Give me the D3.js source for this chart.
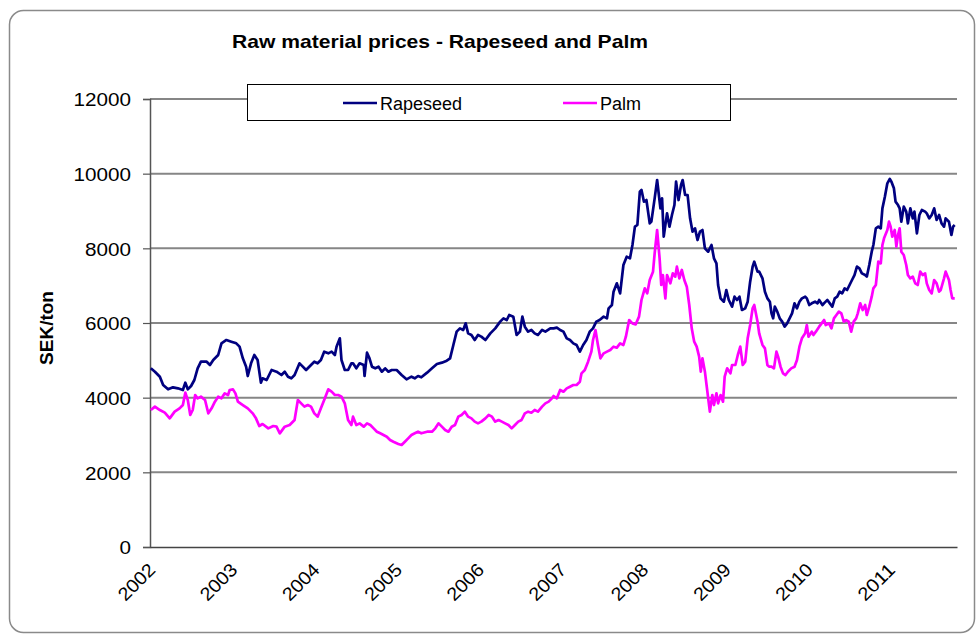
<!DOCTYPE html>
<html>
<head>
<meta charset="utf-8">
<script src="https://cdn.jsdelivr.net/npm/d3@7"></script>
<style>
  body { margin: 0; background: #fff; }
  svg text { font-family: Arial, "Liberation Sans", sans-serif; }
</style>
</head>
<body>
<div class="chart"></div>
<script>
const width = 977;
const height = 637;
const margin = { top: 99, right: 20, bottom: 90, left: 150 };

const title = "Raw material prices - Rapeseed and Palm";
const yLabel = "SEK/ton";
const seriesNames = ["Rapeseed", "Palm"];
const seriesColors = ["#000080", "#ff00ff"];
const yTicks = [0, 2000, 4000, 6000, 8000, 10000, 12000];
const xStart = 2002;
const xEnd = 2011.818;

// [decimal year, SEK/ton]
const rapeseed = [
  [2002.01,4786],[2002.06,4696],[2002.12,4562],[2002.16,4339],[2002.22,4223],[2002.28,4277],[2002.34,4250],[2002.40,4205],
  [2002.43,4402],[2002.46,4223],[2002.50,4312],[2002.54,4473],[2002.58,4786],[2002.62,4964],[2002.69,4964],[2002.73,4875],
  [2002.77,5009],[2002.83,5143],[2002.87,5455],[2002.93,5545],[2002.99,5500],[2003.05,5455],[2003.09,5366],[2003.13,5053],
  [2003.17,4830],[2003.19,4580],[2003.23,4920],[2003.27,5143],[2003.31,5009],[2003.35,4402],[2003.37,4518],[2003.42,4473],
  [2003.48,4741],[2003.54,4696],[2003.60,4607],[2003.64,4696],[2003.68,4562],[2003.72,4518],[2003.76,4607],[2003.82,4920],
  [2003.86,4830],[2003.90,4741],[2003.96,4875],[2004.00,4964],[2004.04,4920],[2004.08,5009],[2004.12,5232],[2004.17,5187],
  [2004.21,5232],[2004.25,5143],[2004.27,5366],[2004.31,5589],[2004.33,5009],[2004.37,4741],[2004.41,4741],[2004.45,4920],
  [2004.47,4920],[2004.51,4786],[2004.55,4920],[2004.60,4875],[2004.61,4580],[2004.64,5205],[2004.67,5053],[2004.70,4830],
  [2004.74,4786],[2004.78,4830],[2004.82,4696],[2004.86,4786],[2004.90,4696],[2004.94,4741],[2005.00,4741],[2005.06,4607],
  [2005.12,4491],[2005.18,4562],[2005.22,4518],[2005.26,4580],[2005.30,4545],[2005.37,4670],[2005.43,4786],[2005.49,4902],
  [2005.55,4938],[2005.61,4991],[2005.65,5053],[2005.69,5411],[2005.73,5768],[2005.77,5857],[2005.81,5813],[2005.84,5991],
  [2005.87,5723],[2005.91,5679],[2005.95,5545],[2005.99,5679],[2006.03,5634],[2006.08,5545],[2006.14,5723],[2006.20,5857],
  [2006.26,6036],[2006.30,6125],[2006.34,6080],[2006.37,6214],[2006.42,6170],[2006.46,5679],[2006.50,5768],[2006.53,6170],
  [2006.56,5902],[2006.60,5768],[2006.64,5813],[2006.68,5723],[2006.72,5679],[2006.77,5813],[2006.81,5768],[2006.87,5857],
  [2006.91,5857],[2006.95,5875],[2006.99,5812],[2007.03,5768],[2007.07,5589],[2007.11,5545],[2007.15,5455],[2007.19,5411],
  [2007.23,5232],[2007.27,5411],[2007.31,5545],[2007.35,5768],[2007.39,5857],[2007.43,6036],[2007.47,6080],[2007.52,6170],
  [2007.56,6125],[2007.58,6393],[2007.62,6482],[2007.64,6839],[2007.68,7062],[2007.72,6794],[2007.76,7553],[2007.80,7777],
  [2007.84,7732],[2007.87,8089],[2007.90,8580],[2007.93,8625],[2007.96,9518],[2007.98,9562],[2008.01,9250],[2008.04,9294],
  [2008.08,8669],[2008.10,8714],[2008.14,9339],[2008.17,9830],[2008.21,9071],[2008.23,9339],[2008.25,8312],[2008.29,8937],
  [2008.32,8580],[2008.35,8893],[2008.38,9160],[2008.40,9785],[2008.43,9294],[2008.46,9696],[2008.48,9830],[2008.51,9428],
  [2008.54,9428],[2008.57,8803],[2008.60,8446],[2008.63,8535],[2008.66,8223],[2008.69,8446],[2008.72,8491],[2008.75,8000],
  [2008.79,7910],[2008.83,8089],[2008.86,7732],[2008.89,7598],[2008.91,7018],[2008.94,6660],[2008.98,6571],[2009.01,6884],
  [2009.04,6616],[2009.08,6437],[2009.11,6705],[2009.14,6616],[2009.17,6705],[2009.20,6348],[2009.24,6393],[2009.27,6571],
  [2009.30,7107],[2009.33,7509],[2009.35,7643],[2009.39,7375],[2009.41,7375],[2009.45,7196],[2009.48,6839],[2009.51,6660],
  [2009.54,6571],[2009.56,6259],[2009.58,6125],[2009.60,6437],[2009.63,6304],[2009.66,6125],[2009.69,6036],[2009.72,5902],
  [2009.75,5991],[2009.78,6125],[2009.81,6259],[2009.84,6527],[2009.87,6393],[2009.90,6571],[2009.93,6660],[2009.97,6705],
  [2009.99,6660],[2010.02,6482],[2010.05,6527],[2010.09,6571],[2010.12,6527],[2010.14,6616],[2010.18,6482],[2010.21,6553],
  [2010.24,6616],[2010.27,6527],[2010.30,6437],[2010.33,6660],[2010.36,6705],[2010.39,6839],[2010.42,6794],[2010.45,6928],
  [2010.48,6884],[2010.51,7018],[2010.54,7152],[2010.57,7285],[2010.60,7509],[2010.63,7464],[2010.66,7330],[2010.70,7285],
  [2010.72,7241],[2010.75,7553],[2010.78,7910],[2010.80,8089],[2010.83,8535],[2010.86,8580],[2010.89,8535],[2010.91,9071],
  [2010.94,9384],[2010.97,9741],[2011.00,9857],[2011.02,9785],[2011.05,9607],[2011.07,9250],[2011.10,9160],[2011.12,9071],
  [2011.14,8714],[2011.17,9116],[2011.20,8982],[2011.22,8669],[2011.25,9071],[2011.28,8803],[2011.30,8982],[2011.33,8402],
  [2011.36,8893],[2011.39,9027],[2011.43,8982],[2011.45,8937],[2011.48,8803],[2011.51,8893],[2011.54,9071],[2011.57,8759],
  [2011.60,8893],[2011.63,8669],[2011.66,8580],[2011.68,8803],[2011.72,8714],[2011.75,8357],[2011.77,8580],[2011.79,8625]
];

const palm = [
  [2002.01,3669],[2002.06,3759],[2002.12,3669],[2002.18,3598],[2002.24,3446],[2002.30,3625],[2002.36,3714],[2002.40,3803],
  [2002.43,4134],[2002.46,3937],[2002.49,3536],[2002.52,3669],[2002.55,4071],[2002.58,3982],[2002.62,4027],[2002.67,3937],
  [2002.71,3580],[2002.75,3714],[2002.79,3893],[2002.83,4027],[2002.87,3982],[2002.91,4116],[2002.95,4071],[2002.97,4205],
  [2003.01,4223],[2003.04,4116],[2003.07,3893],[2003.13,3803],[2003.19,3714],[2003.25,3580],[2003.29,3446],[2003.33,3241],
  [2003.37,3294],[2003.44,3178],[2003.50,3241],[2003.54,3223],[2003.58,3044],[2003.64,3223],[2003.70,3268],[2003.76,3402],
  [2003.80,3937],[2003.84,3848],[2003.88,3759],[2003.92,3803],[2003.96,3759],[2004.00,3580],[2004.04,3491],[2004.08,3714],
  [2004.12,3937],[2004.17,4223],[2004.21,4161],[2004.25,4071],[2004.29,4071],[2004.33,4027],[2004.37,3848],[2004.41,3402],
  [2004.45,3268],[2004.47,3491],[2004.51,3268],[2004.55,3312],[2004.60,3223],[2004.64,3312],[2004.68,3268],[2004.72,3178],
  [2004.76,3089],[2004.80,3045],[2004.84,3000],[2004.88,2955],[2004.92,2866],[2004.96,2821],[2005.02,2759],[2005.06,2732],
  [2005.10,2821],[2005.14,2911],[2005.18,3000],[2005.22,3045],[2005.26,3089],[2005.30,3045],[2005.37,3089],[2005.43,3089],
  [2005.47,3178],[2005.51,3312],[2005.55,3223],[2005.59,3134],[2005.63,3089],[2005.67,3223],[2005.71,3268],[2005.75,3491],
  [2005.79,3536],[2005.83,3625],[2005.87,3491],[2005.91,3446],[2005.95,3357],[2005.99,3312],[2006.03,3357],[2006.08,3446],
  [2006.12,3536],[2006.16,3491],[2006.20,3357],[2006.24,3402],[2006.28,3357],[2006.32,3312],[2006.36,3268],[2006.40,3178],
  [2006.44,3268],[2006.48,3357],[2006.52,3402],[2006.56,3580],[2006.60,3625],[2006.64,3598],[2006.68,3670],[2006.72,3625],
  [2006.77,3759],[2006.81,3848],[2006.85,3893],[2006.89,3982],[2006.91,4045],[2006.95,3982],[2006.99,4205],[2007.03,4160],
  [2007.07,4250],[2007.11,4294],[2007.15,4339],[2007.19,4339],[2007.23,4428],[2007.25,4651],[2007.29,4741],[2007.33,4964],
  [2007.37,5232],[2007.39,5545],[2007.42,5812],[2007.45,5411],[2007.48,5053],[2007.52,5187],[2007.56,5232],[2007.60,5277],
  [2007.64,5366],[2007.68,5339],[2007.72,5455],[2007.76,5411],[2007.79,5634],[2007.83,6080],[2007.87,5991],[2007.91,5964],
  [2007.95,6170],[2007.98,6616],[2008.02,6928],[2008.05,6794],[2008.08,7152],[2008.12,7375],[2008.14,7866],[2008.17,8491],
  [2008.20,7732],[2008.22,7018],[2008.24,7285],[2008.27,6660],[2008.29,7285],[2008.33,7062],[2008.36,7330],[2008.39,7241],
  [2008.41,7509],[2008.44,7196],[2008.47,7420],[2008.50,7152],[2008.53,6973],[2008.56,6482],[2008.59,5857],[2008.62,5500],
  [2008.65,5366],[2008.68,5098],[2008.70,4696],[2008.72,5053],[2008.75,4696],[2008.77,4339],[2008.79,3982],[2008.81,3625],
  [2008.84,4071],[2008.86,3803],[2008.89,4116],[2008.91,3848],[2008.94,4071],[2008.97,3893],[2008.99,4562],[2009.02,4785],
  [2009.06,4651],[2009.08,4875],[2009.12,4875],[2009.15,5143],[2009.18,5366],[2009.21,4875],[2009.24,4964],[2009.27,5589],
  [2009.30,5946],[2009.33,6393],[2009.35,6482],[2009.39,6036],[2009.41,5723],[2009.45,5411],[2009.48,5321],[2009.51,4875],
  [2009.53,4830],[2009.56,4830],[2009.59,4785],[2009.62,5232],[2009.64,5098],[2009.67,4830],[2009.70,4651],[2009.73,4607],
  [2009.76,4696],[2009.80,4785],[2009.84,4830],[2009.87,5009],[2009.90,5366],[2009.93,5589],[2009.97,5723],[2009.99,5946],
  [2010.01,5634],[2010.05,5768],[2010.07,5679],[2010.10,5768],[2010.14,5902],[2010.17,5991],[2010.20,6080],[2010.22,5946],
  [2010.26,5991],[2010.29,5857],[2010.32,6125],[2010.35,6214],[2010.38,6304],[2010.41,6259],[2010.44,6036],[2010.47,6080],
  [2010.50,6036],[2010.53,5768],[2010.56,6036],[2010.59,6125],[2010.61,6259],[2010.64,6527],[2010.67,6348],[2010.70,6482],
  [2010.72,6214],[2010.75,6437],[2010.78,6705],[2010.80,6928],[2010.83,7018],[2010.86,7643],[2010.89,7598],[2010.91,8089],
  [2010.93,8268],[2010.97,8491],[2010.99,8714],[2011.01,8580],[2011.03,8312],[2011.06,8491],[2011.08,8045],[2011.10,8357],
  [2011.12,8535],[2011.14,7910],[2011.17,7821],[2011.20,7553],[2011.22,7285],[2011.25,7196],[2011.28,7241],[2011.31,7062],
  [2011.34,7018],[2011.37,7375],[2011.40,7285],[2011.43,7330],[2011.45,7062],[2011.48,6884],[2011.51,6794],[2011.54,7152],
  [2011.57,7062],[2011.60,6839],[2011.62,6884],[2011.66,7196],[2011.68,7375],[2011.72,7152],[2011.74,6884],[2011.76,6660],
  [2011.79,6660]
];

// decimal year -> Date
function toDate(t) {
    const y = Math.floor(t);
    const a = new Date(y, 0, 1), b = new Date(y + 1, 0, 1);
    return new Date(+a + (t - y) * (b - a));
}

const svg = d3.select(".chart")
    .append("svg")
    .attr("width", width)
    .attr("height", height)

// outer frame
svg.append("rect")
    .attr("x", 9.5)
    .attr("y", 10.5)
    .attr("width", 965)
    .attr("height", 622)
    .attr("rx", 14)
    .attr("fill", "white")
    .attr("stroke", "#8a8a8a")
    .attr("stroke-width", 1.5)

const x = d3.scaleTime()
    .domain([toDate(xStart), toDate(xEnd)])
    .range([margin.left, width - margin.right])

const y = d3.scaleLinear()
    .domain([0, 12000])
    .range([height - margin.bottom, margin.top])

// gridlines
svg.append("g")
    .selectAll("line")
    .data(yTicks.filter(d => d > 0))
    .join("line")
    .attr("x1", margin.left)
    .attr("x2", width - margin.right)
    .attr("y1", d => y(d))
    .attr("y2", d => y(d))
    .attr("stroke", "#868686")
    .attr("stroke-width", 2)

// y axis
const yAxis = svg.append("g")
    .attr("transform", `translate(${margin.left}, 0)`)
    .call(d3.axisLeft(y).tickValues(yTicks).tickSize(7).tickPadding(12).tickFormat(d3.format("d")))
yAxis.select(".domain").attr("stroke", "#555").attr("stroke-width", 1.5)
yAxis.selectAll(".tick line").attr("stroke", "#555").attr("stroke-width", 1.2)
yAxis.selectAll(".tick text")
    .attr("font-size", 18.5)
    .attr("fill", "#000")
    .attr("dy", "0.36em")
    .attr("textLength", d => String(d).length * 11.5)
    .attr("lengthAdjust", "spacingAndGlyphs")

// x axis
const xAxis = svg.append("g")
    .attr("transform", `translate(0, ${height - margin.bottom})`)
    .call(d3.axisBottom(x).ticks(d3.timeYear.every(1)).tickSize(0).tickFormat(d3.timeFormat("%Y")))
xAxis.select(".domain").attr("stroke", "#444").attr("stroke-width", 1.5)
xAxis.selectAll(".tick text")
    .attr("font-size", 18.5)
    .attr("fill", "#000")
    .attr("text-anchor", "end")
    .attr("dy", null)
    .attr("y", 0)
    .attr("textLength", 44)
    .attr("lengthAdjust", "spacingAndGlyphs")
    .attr("transform", "translate(6, 24) rotate(-45)")

// lines
const line = d3.line()
    .x(d => x(toDate(d[0])))
    .y(d => y(d[1]))

svg.selectAll("path.series")
    .data([rapeseed, palm])
    .join("path")
    .attr("class", "series")
    .attr("fill", "none")
    .attr("stroke", (d, i) => seriesColors[i])
    .attr("stroke-width", 2.7)
    .attr("stroke-linejoin", "round")
    .attr("d", d => line(d))

// title
svg.append("text")
    .attr("x", 440)
    .attr("y", 48)
    .attr("text-anchor", "middle")
    .attr("font-size", 18.5)
    .attr("font-weight", "bold")
    .attr("textLength", 416)
    .attr("lengthAdjust", "spacingAndGlyphs")
    .text(title)

// y label
svg.append("text")
    .attr("transform", `translate(53, ${y(6000) + 5}) rotate(-90)`)
    .attr("text-anchor", "middle")
    .attr("font-size", 19)
    .attr("font-weight", "bold")
    .text(yLabel)

// legend
const legend = svg.append("g")
legend.append("rect")
    .attr("x", 247.5)
    .attr("y", 84.5)
    .attr("width", 483)
    .attr("height", 36)
    .attr("fill", "white")
    .attr("stroke", "#000")
    .attr("stroke-width", 1)

const legendX = [343, 563];
legend.selectAll("line.key")
    .data(seriesNames)
    .join("line")
    .attr("class", "key")
    .attr("x1", (d, i) => legendX[i])
    .attr("x2", (d, i) => legendX[i] + 34)
    .attr("y1", 103)
    .attr("y2", 103)
    .attr("stroke", (d, i) => seriesColors[i])
    .attr("stroke-width", 2.7)

legend.selectAll("text.key")
    .data(seriesNames)
    .join("text")
    .attr("class", "key")
    .attr("x", (d, i) => legendX[i] + 37)
    .attr("y", 110)
    .attr("font-size", 18)
    .text(d => d)
</script>
</body>
</html>
